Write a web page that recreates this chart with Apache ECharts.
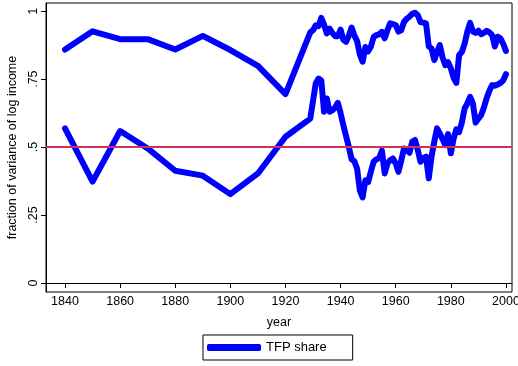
<!DOCTYPE html>
<html>
<head>
<meta charset="utf-8">
<script src="https://cdn.jsdelivr.net/npm/echarts@6/dist/echarts.min.js"></script>
<style>
  html, body { margin: 0; padding: 0; background: #fff; }
  #chart { width: 518px; height: 366px; }
</style>
</head>
<body>
<div id="chart"></div>
<script>
// Decadal observations 1840-1920, then annual 1929-2000
const years = [1840, 1850, 1860, 1870, 1880, 1890, 1900, 1910, 1920,
  1929, 1930, 1931, 1932, 1933, 1934, 1935, 1936, 1937, 1938, 1939,
  1940, 1941, 1942, 1943, 1944, 1945, 1946, 1947, 1948, 1949,
  1950, 1951, 1952, 1953, 1954, 1955, 1956, 1957, 1958, 1959,
  1960, 1961, 1962, 1963, 1964, 1965, 1966, 1967, 1968, 1969,
  1970, 1971, 1972, 1973, 1974, 1975, 1976, 1977, 1978, 1979,
  1980, 1981, 1982, 1983, 1984, 1985, 1986, 1987, 1988, 1989,
  1990, 1991, 1992, 1993, 1994, 1995, 1996, 1997, 1998, 1999, 2000];

const upperShare = [0.859, 0.926, 0.897, 0.897, 0.859, 0.909, 0.857, 0.799, 0.695,
  0.922, 0.930, 0.948, 0.945, 0.975, 0.950, 0.918, 0.936, 0.920, 0.908, 0.908,
  0.932, 0.895, 0.887, 0.910, 0.940, 0.910, 0.890, 0.840, 0.814, 0.868,
  0.852, 0.870, 0.905, 0.912, 0.915, 0.924, 0.900, 0.930, 0.955, 0.952,
  0.949, 0.925, 0.930, 0.960, 0.972, 0.980, 0.990, 0.994, 0.985, 0.960,
  0.958, 0.955, 0.870, 0.863, 0.820, 0.850, 0.875, 0.830, 0.801, 0.812,
  0.790, 0.755, 0.736, 0.838, 0.850, 0.880, 0.925, 0.957, 0.925, 0.920,
  0.928, 0.915, 0.920, 0.928, 0.922, 0.912, 0.870, 0.906, 0.900, 0.880, 0.854];

const lowerShare = [0.569, 0.373, 0.559, 0.495, 0.413, 0.395, 0.327, 0.403, 0.538,
  0.605, 0.670, 0.735, 0.752, 0.745, 0.630, 0.679, 0.630, 0.635, 0.645, 0.663,
  0.625, 0.580, 0.540, 0.500, 0.455, 0.448, 0.420, 0.340, 0.315, 0.378,
  0.372, 0.410, 0.446, 0.455, 0.460, 0.487, 0.403, 0.440, 0.452, 0.458,
  0.440, 0.409, 0.450, 0.495, 0.490, 0.479, 0.520, 0.526, 0.490, 0.446,
  0.460, 0.465, 0.385, 0.465, 0.520, 0.569, 0.550, 0.530, 0.507, 0.548,
  0.477, 0.530, 0.565, 0.555, 0.590, 0.642, 0.661, 0.685, 0.661, 0.590,
  0.605, 0.618, 0.645, 0.680, 0.707, 0.728, 0.726, 0.730, 0.736, 0.745, 0.768];

const xTicks = [1840, 1860, 1880, 1900, 1920, 1940, 1960, 1980, 2000];
const yTicks = [0, 0.25, 0.5, 0.75, 1];
const yTickLabels = ['0', '.25', '.5', '.75', '1'];
const refLevel = 0.5;

const FONT = '"Liberation Sans", Arial, Helvetica, sans-serif';
const FS = 12.5;
const pair = arr => years.map((y, i) => [y, arr[i]]);

const chart = echarts.init(document.getElementById('chart'), null, { renderer: 'canvas' });
chart.setOption({
  animation: false,
  backgroundColor: '#ffffff',
  textStyle: { fontFamily: FONT },
  grid: {
    left: 46, right: 6, top: 3, bottom: 74,
    outerBoundsMode: 'none', containLabel: false,
    show: true, borderColor: '#000', borderWidth: 1
  },
  xAxis: {
    type: 'value', min: 1833.1, max: 2002.2,
    name: 'year', nameLocation: 'middle', nameGap: 24,
    nameTextStyle: { color: '#000', fontSize: FS, fontFamily: FONT },
    axisLine: { show: true, lineStyle: { color: '#000', width: 1 } },
    axisTick: { show: true, length: 5, lineStyle: { color: '#000' }, customValues: xTicks },
    axisLabel: {
      color: '#000', fontSize: FS, margin: 3, fontFamily: FONT, customValues: xTicks,
      formatter: v => String(Math.round(v))
    },
    splitLine: { show: false }
  },
  yAxis: {
    type: 'value', min: -0.033, max: 1.03,
    name: 'fraction of variance of log income', nameLocation: 'middle', nameRotate: 90, nameGap: 20,
    nameTextStyle: { color: '#000', fontSize: FS, fontFamily: FONT },
    axisLine: { show: true, lineStyle: { color: '#000', width: 1 } },
    axisTick: { show: true, length: 5, lineStyle: { color: '#000' }, customValues: yTicks },
    axisLabel: {
      color: '#000', fontSize: FS, margin: 6, rotate: 90, fontFamily: FONT, customValues: yTicks,
      formatter: v => yTickLabels[yTicks.findIndex(t => Math.abs(t - v) < 1e-9)]
    },
    splitLine: { show: false }
  },
  legend: {
    data: ['TFP share'], left: 203, top: 335,
    orient: 'horizontal',
    icon: 'roundRect', itemWidth: 54, itemHeight: 7, itemGap: 10,
    borderColor: '#000', borderWidth: 1, backgroundColor: '#fff',
    padding: [6, 26, 6, 4],
    textStyle: { color: '#000', fontSize: 13, fontFamily: FONT }
  },
  series: [
    {
      type: 'line', name: 'reference', data: [], z: 1, silent: true,
      markLine: {
        silent: true, symbol: 'none', label: { show: false },
        lineStyle: { color: '#cc3355', width: 2, type: 'solid' },
        data: [{ yAxis: refLevel }]
      }
    },
    {
      type: 'line', name: 'TFP share', data: pair(upperShare), z: 3,
      showSymbol: false, symbol: 'none', color: '#0000ff',
      lineStyle: { color: '#0000ff', width: 6, cap: 'round', join: 'round' }
    },
    {
      type: 'line', name: 'TFP share', data: pair(lowerShare), z: 3,
      showSymbol: false, symbol: 'none', color: '#0000ff',
      lineStyle: { color: '#0000ff', width: 6, cap: 'round', join: 'round' }
    }
  ]
});
</script>
</body>
</html>
